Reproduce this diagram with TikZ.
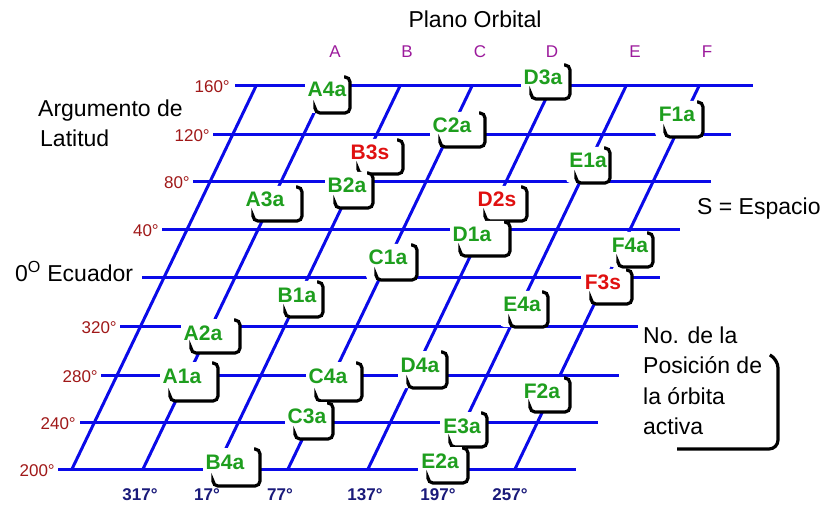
\documentclass[tikz,border=0pt]{standalone}
\usepackage{fontspec}
\setmainfont{Liberation Sans}
\usetikzlibrary{calc}
\definecolor{orbitline}{HTML}{0A0AE8}
\definecolor{activeslot}{HTML}{1E9E1E}
\definecolor{spareslot}{HTML}{E01010}
\definecolor{latlabel}{HTML}{A01818}
\definecolor{raanlabel}{HTML}{1A1A7A}
\definecolor{planelabel}{HTML}{9C1A9C}

\begin{document}
\begin{tikzpicture}[x=1pt, y=-1pt,
    grid/.style={orbitline, line width=3pt},
    brk/.style={line width=3.2pt, rounded corners=5pt},
    slot/.style={font=\fontsize{21}{25}\selectfont\bfseries, inner sep=0pt, anchor=base},
    lat/.style={font=\fontsize{17}{20}\selectfont, text=latlabel, anchor=base east, inner sep=0pt},
    raan/.style={font=\fontsize{17}{20}\selectfont\bfseries, text=raanlabel, anchor=base, inner sep=0pt},
    plane/.style={font=\fontsize{17}{20}\selectfont, text=planelabel, anchor=base, inner sep=0pt},
    note/.style={font=\fontsize{23}{28}\selectfont, anchor=base west, inner sep=0pt}]
  \useasboundingbox[fill=white] (0,0) rectangle (825,505);
  % latitude lines and their labels
  \foreach \l/\y in {235/86, 213/135, 193/182, 162/230, 142/278, 120/326, 101/375, 80/422, 58/469}
    \draw[grid] (\l,\y) -- ++(518,0);
  \foreach \x/\y/\d in {230/86/160, 210/135/120, 190/182/80, 159/230/40, 117/326/320, 98/375/280, 76/422/240, 55/469/200}
    \node[lat] (lat\d) at (\x,\y+7) {\d°};
  % orbital planes
  \foreach \b in {72,143,216,288,368,442,515}
    \draw[grid] (\b,469) -- ++(184,-383);
  \foreach \x/\d in {140/317, 207/17, 280/77, 365/137, 438/197, 510/257}
    \node[raan] (raan\d) at (\x,500) {\d°};
  \foreach \x/\p in {335/A, 407/B, 480/C, 552/D, 635/E, 707/F}
    \node[plane] (plane\p) at (\x,58) {\p};
  % satellite slots
  \foreach \n/\x/\y/\r/\b/\c in {A4a/327/97/350/113/activeslot, B3s/370/160/403/174/spareslot,
      B2a/347/193/373/208/activeslot, A3a/265/207/302/221/activeslot, C2a/452/133/485/147/activeslot,
      D3a/543/85/570/99/activeslot, F1a/677/122/703/137/activeslot, E1a/588/168/610/183/activeslot,
      D2s/497/207/527/221/spareslot, D1a/472/242/510/256/activeslot, C1a/388/265/417/280/activeslot,
      F4a/630/253/653/267/activeslot, F3s/603/290/632/304/spareslot, E4a/522/312/548/327/activeslot,
      B1a/297/302/323/317/activeslot, A2a/203/340/240/353/activeslot, D4a/420/372/447/388/activeslot,
      A1a/182/383/218/401/activeslot, C4a/328/383/362/401/activeslot, F2a/542/398/570/412/activeslot,
      C3a/307/423/333/439/activeslot, E3a/462/433/487/447/activeslot, B4a/225/469/260/486/activeslot,
      E2a/440/468/468/483/activeslot} {
    \fill[white, rounded corners=4pt] (\x-22,\y-21) rectangle (\r,\b);
    \draw[brk] (\r-6,\y-20) -- (\r,\y-20) -- (\r,\b) -- (\x-12,\b) -- ++(0,-4);
    \node[slot, text=\c] (\n) at (\x,\y) {\n};
  }
  % texts
  \node[note, anchor=base] (title) at (475,28) {Plano Orbital};
  \node[note] (arg) at (38,117) {Argumento de};
  \node[note] (latit) at (40,147) {Latitud};
  \node[note] (equator) at (15,282) {0\textsuperscript{O}\ Ecuador};
  \node[note] (spare) at (697,215) {S = Espacio};
  \foreach \t [count=\i] in {No. de la, Posición de, la órbita, activa}
    \node[note] (key\i) at (643,{312.5+30.5*\i}) {\t};
  \draw[brk, rounded corners=9pt] (770,355) -- (778,359) -- (778,449) -- (677,449);
\end{tikzpicture}
\end{document}
